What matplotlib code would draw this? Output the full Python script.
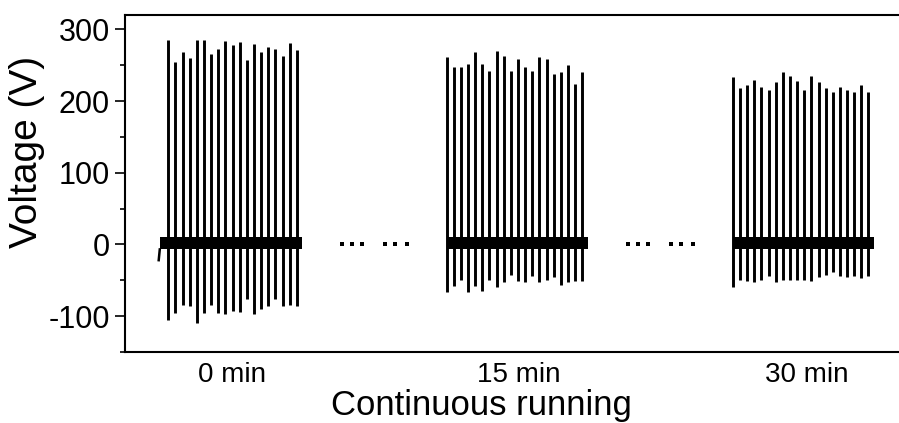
import matplotlib
matplotlib.use('Agg')
import matplotlib.pyplot as plt
import numpy as np

plt.rcParams['font.family'] = ['Liberation Sans', 'DejaVu Sans']
plt.rcParams['axes.unicode_minus'] = False

# one unit on the x axis = one output pulse period
SPIKE_PERIOD = 1.0
GROUP_START = [6.08, 45.08, 85.2]          # time of first pulse in each recording
GROUP_LABELS = ['0 min', '15 min', '30 min']
LABEL_POS = [15.0, 55.2, 95.6]

g1_peaks = [285, 255, 269, 260, 285, 285, 266, 272, 284, 278, 282, 257, 280, 268,
            275, 272, 263, 281, 271]
g1_troughs = [-106, -95, -85, -86, -110, -95, -85, -95, -97, -93, -94, -76, -97,
              -90, -86, -76, -86, -84, -86]
g2_peaks = [261, 247, 247, 252, 268, 251, 242, 270, 263, 242, 258, 247, 242, 261,
            259, 238, 241, 250, 224, 240]
g2_troughs = [-67, -58, -50, -67, -58, -65, -49, -60, -53, -42, -51, -52, -44, -53,
              -49, -46, -57, -53, -51, -51]
g3_peaks = [234, 218, 222, 230, 220, 215, 227, 241, 235, 228, 216, 235, 227, 218,
            213, 219, 215, 212, 223, 213]
g3_troughs = [-59, -49, -51, -53, -49, -44, -53, -49, -49, -49, -49, -51, -46, -42,
              -39, -44, -46, -44, -47, -44]

BASE_LOW, BASE_HIGH = -7, 11               # ringing band around 0 V
LEAD_IN = -22                              # small dip before the first recording
LEAD_TIME = 1.2

peaks = [g1_peaks, g2_peaks, g3_peaks]
troughs = [g1_troughs, g2_troughs, g3_troughs]

fig = plt.figure(figsize=(8.99, 4.23), dpi=100)
ax = fig.add_axes([0.139, 0.168, 0.881, 0.7965])

ends = []
for g, (start, pk, tr) in enumerate(zip(GROUP_START, peaks, troughs)):
    t = start + SPIKE_PERIOD * np.arange(len(pk))
    ax.vlines(t, tr, pk, color='k', lw=2.1)
    first = t[0] - (LEAD_TIME if g == 0 else 0)
    end = t[-1] + 0.8
    ax.fill_between([first, end], BASE_LOW, BASE_HIGH, color='k', lw=0)
    ends.append(end)

# lead-in of the first trace
ax.plot([GROUP_START[0] - LEAD_TIME - 0.15, GROUP_START[0] - LEAD_TIME],
        [LEAD_IN, BASE_LOW], color='k', lw=1.8)

# "... ..." between recordings
dot_offsets = np.array([-4.6, -3.2, -1.7, 1.5, 2.9, 4.5])
for end, nxt in zip(ends[:-1], GROUP_START[1:]):
    mid = (end + nxt) / 2
    ax.scatter(mid + dot_offsets, np.zeros(6), marker='s', s=7, color='k', lw=0)

ax.set_xlim(0, 111.0)
ax.set_ylim(-149, 320)
ax.set_yticks([-100, 0, 100, 200, 300])
ax.set_yticks(np.arange(-150, 301, 50), minor=True)
ax.tick_params(axis='y', which='major', direction='out', length=7, width=1.2,
               labelsize=22, pad=4)
ax.tick_params(axis='y', which='minor', direction='out', length=3.5, width=1.2)
ax.set_xticks(LABEL_POS)
ax.set_xticklabels(GROUP_LABELS)
ax.tick_params(axis='x', length=0, labelsize=20, pad=7)
for s in ax.spines.values():
    s.set_linewidth(1.5)

ax.set_ylabel('Voltage (V)', fontsize=28)
ax.yaxis.set_label_coords(-0.101, 0.595)
ax.set_xlabel('Continuous running', fontsize=25)
ax.xaxis.set_label_coords(0.4495, -0.11)

fig.savefig('out.png', dpi=100)
